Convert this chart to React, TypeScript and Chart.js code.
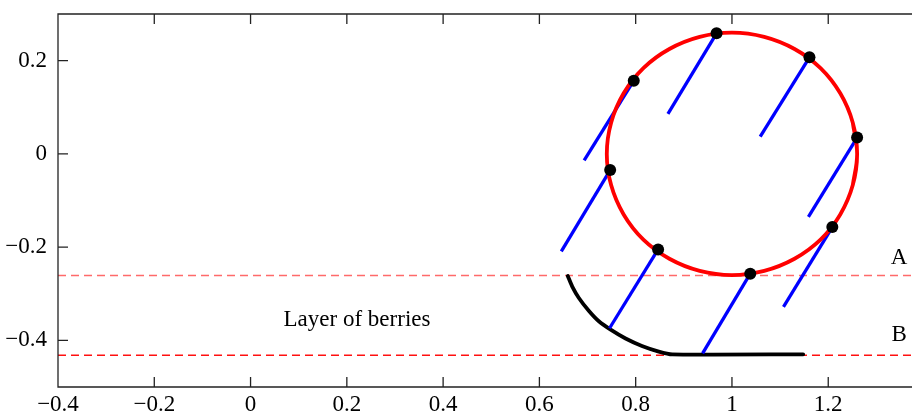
import React, { useEffect, useRef } from "react";
import { Chart, registerables } from "chart.js";

Chart.register(...registerables);

// Axis ranges and ticks
const xRange = [-0.4, 1.374];
const yRange = [-0.5, 0.3];
const xTickValues = [-0.4, -0.2, 0, 0.2, 0.4, 0.6, 0.8, 1, 1.2];
const yTickValues = [-0.4, -0.2, 0, 0.2];

// Red circle (read around the outline)
const circleX = [1.251, 1.26, 1.251, 1.225, 1.184, 1.13, 1.067, 1.0, 0.933, 0.87, 0.816, 0.775, 0.749, 0.74, 0.749, 0.775, 0.816, 0.87, 0.933, 1.0, 1.067, 1.13, 1.184, 1.225, 1.251, 1.26, 1.251];
const circleY = [-0.067, 0, 0.067, 0.13, 0.184, 0.225, 0.251, 0.26, 0.251, 0.225, 0.184, 0.13, 0.067, 0, -0.067, -0.13, -0.184, -0.225, -0.251, -0.26, -0.251, -0.225, -0.184, -0.13, -0.067, 0, 0.067];

// Black dots on the circle and the blue segments' far ends
const dotX = [0.968, 1.161, 1.26, 1.2085, 1.038, 0.8466, 0.747, 0.796];
const dotY = [0.2586, 0.207, 0.035, -0.157, -0.257, -0.205, -0.0347, 0.157];
const tailX = [0.867, 1.0587, 1.1588, 1.107, 0.939, 0.7457, 0.6455, 0.693];
const tailY = [0.0858, 0.0372, -0.1353, -0.328, -0.428, -0.374, -0.209, -0.0141];

// Black curve (arc then flat)
const curveX = [0.659, 0.668, 0.682, 0.703, 0.7235, 0.748, 0.779, 0.813, 0.848, 0.876, 1.148];
const curveY = [-0.262, -0.284, -0.309, -0.337, -0.359, -0.377, -0.396, -0.412, -0.424, -0.43, -0.43];

// Dashed levels
const levelA = -0.261;
const levelB = -0.432;

// Text annotations (data coords, alphabetic baseline)
const noteTexts = ["Layer of berries", "A", "B"];
const noteX = [0.2211, 1.3472, 1.3472];
const noteY = [-0.3694, -0.2353, -0.4015];

const FONT = "'Liberation Serif', 'Times New Roman', serif";
const FONT_SIZE = 23;

const fmt = (v: number) => {
  const r = Math.round(v * 10) / 10;
  return String(r).replace("-", "\u2212");
};

export default function App() {
  const ref = useRef<HTMLCanvasElement | null>(null);

  useEffect(() => {
    if (!ref.current) return;
    const pts = (xs: number[], ys: number[]) => xs.map((x, i) => ({ x, y: ys[i] }));

    const blueSets = dotX.map((x, i) => ({
      data: [{ x, y: dotY[i] }, { x: tailX[i], y: tailY[i] }],
      showLine: true,
      borderColor: "#0000ff",
      borderWidth: 3.3,
      pointRadius: 0,
      order: 2,
    }));

    const framePlugin = {
      id: "frame",
      afterDatasetsDraw(chart: any) {
        const { ctx, chartArea, scales } = chart;
        const { left, right, top, bottom } = chartArea;
        const xs = scales.x;
        const ys = scales.y;
        ctx.save();
        ctx.setLineDash([]);
        ctx.strokeStyle = "#222";
        ctx.lineWidth = 1.3;
        ctx.beginPath();
        ctx.moveTo(right, top);
        ctx.lineTo(left, top);
        ctx.lineTo(left, bottom);
        ctx.lineTo(right, bottom);
        xTickValues.forEach((v) => {
          const px = xs.getPixelForValue(v);
          ctx.moveTo(px, bottom);
          ctx.lineTo(px, bottom - 10);
          ctx.moveTo(px, top);
          ctx.lineTo(px, top + 10);
        });
        yTickValues.forEach((v) => {
          const py = ys.getPixelForValue(v);
          ctx.moveTo(left, py);
          ctx.lineTo(left + 10, py);
        });
        ctx.stroke();

        ctx.fillStyle = "#000";
        ctx.font = `${FONT_SIZE}px ${FONT}`;
        ctx.textAlign = "center";
        ctx.textBaseline = "alphabetic";
        noteTexts.forEach((t, i) => {
          ctx.fillText(t, xs.getPixelForValue(noteX[i]), ys.getPixelForValue(noteY[i]));
        });
        ctx.restore();
      },
    };

    const chart = new Chart(ref.current, {
      type: "scatter",
      data: {
        datasets: [
          {
            data: pts(dotX, dotY),
            pointRadius: 6,
            pointBackgroundColor: "#000",
            pointBorderColor: "#000",
            pointBorderWidth: 0,
            showLine: false,
            order: 0,
          },
          {
            data: pts(circleX, circleY),
            showLine: true,
            borderColor: "#ff0000",
            borderWidth: 3.8,
            pointRadius: 0,
            tension: 0.4,
            order: 1,
          },
          ...blueSets,
          {
            data: pts(curveX, curveY),
            showLine: true,
            borderColor: "#000",
            borderWidth: 3.8,
            pointRadius: 0,
            tension: 0.2,
            borderCapStyle: "round",
            order: 3,
          },
          {
            data: [{ x: xRange[0], y: levelA }, { x: xRange[1], y: levelA }],
            showLine: true,
            borderColor: "#ff6a6a",
            borderWidth: 1.5,
            borderDash: [8, 5],
            pointRadius: 0,
            order: 4,
          },
          {
            data: [{ x: xRange[0], y: levelB }, { x: xRange[1], y: levelB }],
            showLine: true,
            borderColor: "#ff1010",
            borderWidth: 1.6,
            borderDash: [8, 5],
            pointRadius: 0,
            order: 4,
          },
        ] as any,
      },
      options: {
        animation: false,
        responsive: false,
        devicePixelRatio: 1,
        events: [],
        layout: { autoPadding: false, padding: { top: 14, right: 0, left: 0, bottom: 0 } },
        plugins: { legend: { display: false }, tooltip: { enabled: false } },
        scales: {
          x: {
            type: "linear",
            min: xRange[0],
            max: xRange[1],
            grid: { display: false, drawTicks: false },
            border: { display: false },
            afterBuildTicks: (s: any) => {
              s.ticks = xTickValues.map((v) => ({ value: v }));
            },
            afterFit: (s: any) => {
              s.height = 26;
              s.paddingLeft = 0;
              s.paddingRight = 0;
              s.paddingTop = 0;
              s.paddingBottom = 0;
            },
            ticks: {
              color: "#000",
              padding: 4,
              maxRotation: 0,
              autoSkip: false,
              font: { family: FONT, size: FONT_SIZE },
              callback: (v: any) => fmt(Number(v)),
            },
          },
          y: {
            type: "linear",
            min: yRange[0],
            max: yRange[1],
            grid: { display: false, drawTicks: false },
            border: { display: false },
            afterBuildTicks: (s: any) => {
              s.ticks = yTickValues.map((v) => ({ value: v }));
            },
            afterFit: (s: any) => {
              s.width = 58;
              s.paddingLeft = 0;
              s.paddingRight = 0;
              s.paddingTop = 0;
              s.paddingBottom = 0;
            },
            ticks: {
              color: "#000",
              padding: 11,
              autoSkip: false,
              font: { family: FONT, size: FONT_SIZE },
              callback: (v: any) => fmt(Number(v)),
            },
          },
        },
      } as any,
      plugins: [framePlugin],
    });
    return () => chart.destroy();
  }, []);

  return (
    <div style={{ position: "fixed", left: 0, top: 0, width: 912, height: 413, background: "#fff" }}>
      <canvas ref={ref} width={912} height={413} style={{ width: 912, height: 413, display: "block" }} />
    </div>
  );
}
